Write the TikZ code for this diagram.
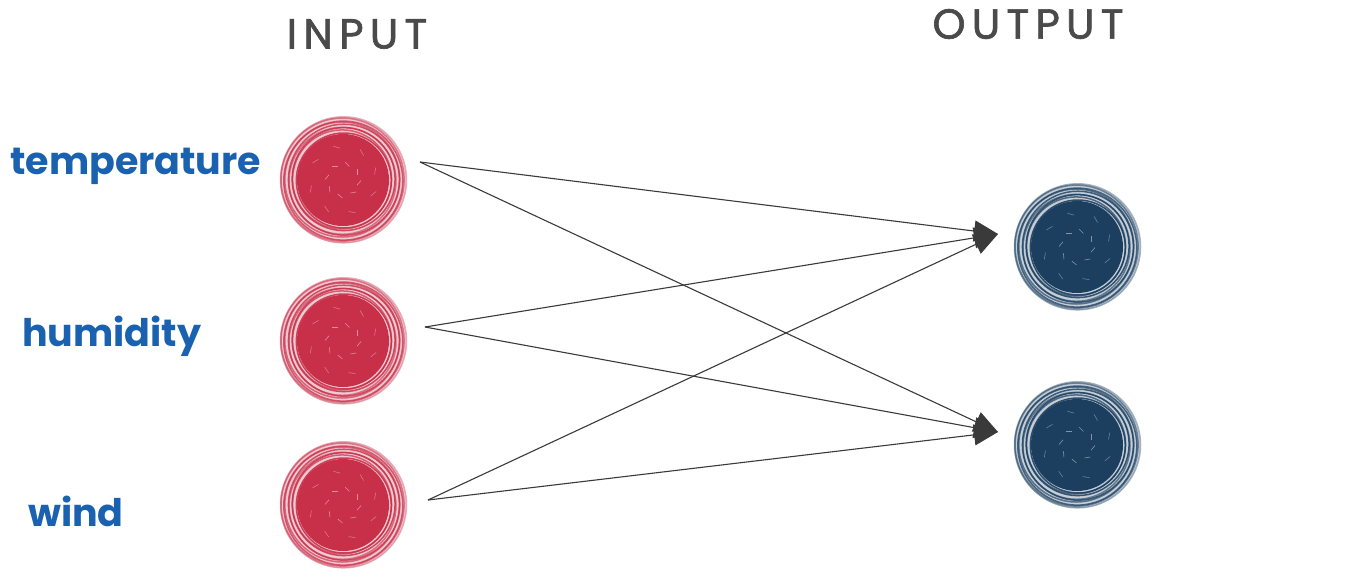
\documentclass[tikz,border=0pt]{standalone}
\usepackage{fontspec}
\setmainfont{Poppins}
\usetikzlibrary{arrows.meta}
\definecolor{inred}{HTML}{C8304A}
\definecolor{outblue}{HTML}{1C3F60}
\definecolor{lblblue}{HTML}{1A62B0}
\definecolor{hdgray}{HTML}{4A4A4A}
\definecolor{arrgray}{HTML}{3A3A3A}
\tikzset{
  lbl/.style={text=lblblue, font=\fontsize{38}{40}\selectfont\bfseries, inner sep=0pt},
  hdr/.style={text=hdgray, font=\fontsize{42}{44}\selectfont\addfontfeatures{LetterSpace=15,FakeBold=1.6}, inner sep=0pt},
  conn/.style={draw=arrgray, line width=1.1pt, -{Triangle[length=24pt,width=21pt,fill=arrgray]}},
  neuron/.style={circle, minimum size=126pt, inner sep=0pt},
}
\newcommand{\sketchring}[2]{%
  \fill[#2!25] (#1.center) circle (63pt);
  \fill[#2] (#1.center) circle (46pt);
  \foreach \r/\dx/\dy/\op in {47.5/0.8/-0.5/0.9, 49.5/-0.9/0.6/0.7, 51.5/0.6/0.9/0.85, 53.5/-0.5/-0.8/0.6, 55.5/0.9/0.3/0.8, 57.5/-0.7/0.5/0.65, 59.5/0.3/-0.6/0.75, 61.5/-0.4/0.4/0.55, 63/0.5/0.2/0.4}{
    \draw[#2, line width=1.5pt, opacity=\op] ([shift={(\dx pt,\dy pt)}]#1.center) circle (\r pt);
  }
  \foreach \a in {20,65,110,160,205,250,300,340}{
    \draw[white, line width=0.6pt, opacity=0.45] ([shift={(\a:15pt)}]#1.center) -- ++(\a+70:6pt);
    \draw[white, line width=0.6pt, opacity=0.35] ([shift={(\a+30:32pt)}]#1.center) -- ++(\a+100:7pt);
  }
}
\begin{document}
\begin{tikzpicture}[x=1pt,y=-1pt]
\useasboundingbox (0,0) rectangle (1366,582);
\node[neuron] (i1) at (343,180) {};
\node[neuron] (i2) at (343,341) {};
\node[neuron] (i3) at (343,505) {};
\node[neuron] (o1) at (1077,247) {};
\node[neuron] (o2) at (1077,445) {};
\sketchring{i1}{inred}
\sketchring{i2}{inred}
\sketchring{i3}{inred}
\sketchring{o1}{outblue}
\sketchring{o2}{outblue}
\coordinate (s1) at (420,162);
\coordinate (s2) at (425,327);
\coordinate (s3) at (428,500);
\coordinate (t1) at (998,234);
\coordinate (t2) at (998,432);
\draw[conn] (s1) -- (t1);
\draw[conn] (s1) -- (t2);
\draw[conn] (s2) -- (t1);
\draw[conn] (s2) -- (t2);
\draw[conn] (s3) -- (t1);
\draw[conn] (s3) -- (t2);
\node[lbl, anchor=west] (l1) at (10,166) {temperature};
\node[lbl, anchor=west] (l2) at (22,336) {humidity};
\node[lbl, anchor=west] (l3) at (28,511) {wind};
\node[hdr] (h1) at (357,34) {INPUT};
\node[hdr] (h2) at (1028,24) {OUTPUT};
\end{tikzpicture}
\end{document}
